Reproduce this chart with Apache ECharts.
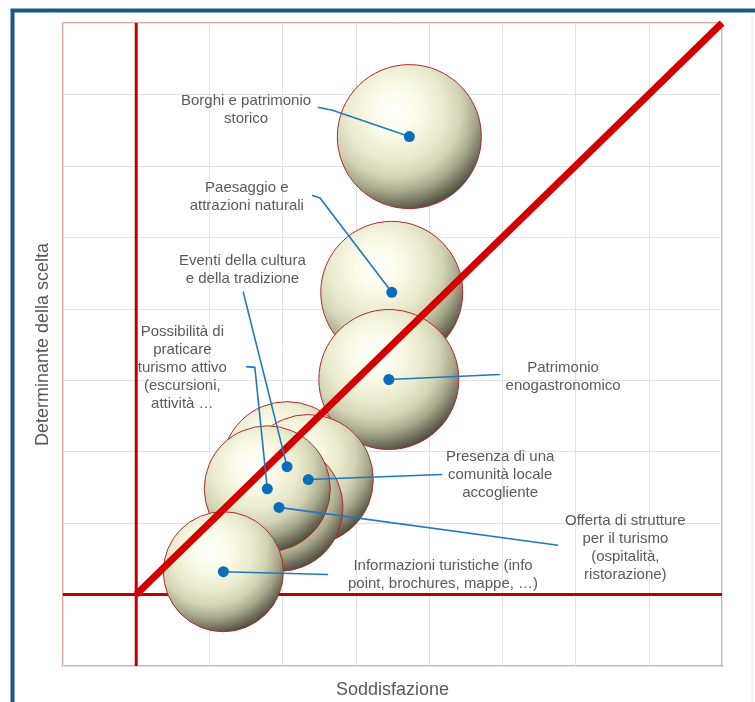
<!DOCTYPE html>
<html>
<head>
<meta charset="utf-8">
<script src="https://cdn.jsdelivr.net/npm/echarts@6/dist/echarts.min.js"></script>
<style>
  html, body { margin: 0; padding: 0; background: #ffffff; }
  #chart { width: 755px; height: 702px; }
</style>
</head>
<body>
<div id="chart"></div>
<script>
// Fattori di attrattività: soddisfazione (x), determinante della scelta (y), peso della bolla
const categories = [
  'Borghi e patrimonio storico',
  'Paesaggio e attrazioni naturali',
  'Patrimonio enogastronomico',
  'Eventi della cultura e della tradizione',
  'Presenza di una comunità locale accogliente',
  'Offerta di strutture per il turismo (ospitalità, ristorazione)',
  'Possibilità di praticare turismo attivo (escursioni, attività …',
  'Informazioni turistiche (info point, brochures, mappe, …)'
];
const soddisfazione = [3.73, 3.49, 3.45, 2.06, 2.35, 1.95, 1.79, 1.19];
const determinante  = [6.41, 4.23, 3.01, 1.79, 1.61, 1.22, 1.48, 0.32];
const peso          = [7.2, 7.1, 7.0, 6.5, 6.5, 6.4, 6.3, 6.0];

// Testo delle etichette (a capo come nel layout)
const labelText = [
  'Borghi e patrimonio\nstorico',
  'Paesaggio e\nattrazioni naturali',
  'Patrimonio\nenogastronomico',
  'Eventi della cultura\ne della tradizione',
  'Presenza di una\ncomunità locale\naccogliente',
  'Offerta di strutture\nper il turismo\n(ospitalità,\nristorazione)',
  'Possibilità di\npraticare\nturismo attivo\n(escursioni,\nattività …',
  'Informazioni turistiche (info\npoint, brochures, mappe, …)'
];

// Posizione delle etichette e percorso delle linee di richiamo (unità degli assi)
const labelLayout = [
  { at: [1.50, 6.78], path: [[2.48, 6.82], [2.68, 6.78]] },
  { at: [1.51, 5.56], path: [[2.40, 5.59], [2.51, 5.55]] },
  { at: [5.83, 3.05], path: [[4.97, 3.08]] },
  { at: [1.45, 4.55], path: [[1.46, 4.24]] },
  { at: [4.97, 1.67], path: [[4.18, 1.68]] },
  { at: [6.68, 0.66], path: [[5.76, 0.69]] },
  { at: [0.63, 3.18], path: [[1.50, 3.19], [1.62, 3.18]] },
  { at: [4.19, 0.27], path: [[2.62, 0.28]] }
];

const axisMin = -1, axisMax = 8;

const chart = echarts.init(document.getElementById('chart'), null, { renderer: 'canvas' });

const bubbleFill = new echarts.graphic.RadialGradient(0.4, 0.32, 0.74, [
  { offset: 0, color: '#ffffff' },
  { offset: 0.2, color: '#fcfcec' },
  { offset: 0.45, color: '#ebebcf' },
  { offset: 0.62, color: '#d3d3b5' },
  { offset: 0.76, color: '#a7a78b' },
  { offset: 0.88, color: '#6c6c59' },
  { offset: 1, color: '#33332b' }
]);

const axisCommon = {
  type: 'value',
  min: axisMin,
  max: axisMax,
  interval: 1,
  axisLine: { show: false },
  axisTick: { show: false },
  axisLabel: { show: false },
  splitLine: { show: true, lineStyle: { color: '#e2e2e2', width: 1 } },
  nameLocation: 'middle',
  nameTextStyle: { fontFamily: 'Liberation Sans, Arial, sans-serif', fontSize: 18, color: '#595959' }
};

chart.setOption({
  animation: false,
  backgroundColor: '#ffffff',
  grid: {
    left: 63, top: 23, width: 659, height: 643,
    containLabel: false,
    outerBoundsMode: 'none',
    show: true,
    borderColor: '#d98a8c',
    borderWidth: 1.5,
    backgroundColor: 'transparent'
  },
  xAxis: Object.assign({}, axisCommon, { name: 'Soddisfazione', nameGap: 15 }),
  yAxis: Object.assign({}, axisCommon, { name: 'Determinante della scelta', nameGap: 11 }),
  graphic: [
    {
      type: 'rect',
      shape: { x: 12.5, y: 10.5, width: 800, height: 800 },
      style: { fill: null, stroke: '#1f5486', lineWidth: 4 },
      z: 100
    },
    {
      type: 'line',
      shape: { x1: 752, y1: 14, x2: 752, y2: 702 },
      style: { stroke: '#e6e6e6', lineWidth: 1 },
      z: 100
    }
  ],
  series: [
    // assi di riferimento
    {
      type: 'line',
      data: [[0, axisMin], [0, axisMax]],
      symbol: 'none',
      lineStyle: { color: '#c00000', width: 3 },
      z: 1, silent: true
    },
    {
      type: 'line',
      data: [[axisMin, 0], [axisMax, 0]],
      symbol: 'none',
      lineStyle: { color: '#c00000', width: 3 },
      z: 1, silent: true
    },
    // bolle
    {
      type: 'scatter',
      data: categories.map((c, i) => ({ name: c, value: [soddisfazione[i], determinante[i], peso[i]] })),
      symbolSize: v => v[2] * 20,
      itemStyle: { color: bubbleFill, borderColor: '#b2292b', borderWidth: 1, opacity: 1 },
      z: 2, silent: true
    },
    // bisettrice
    {
      type: 'line',
      data: [[0, 0], [axisMax, axisMax]],
      symbol: 'none',
      clip: false,
      lineStyle: { color: '#d20000', width: 7, cap: 'butt' },
      z: 3, silent: true
    },
    // punti centrali, linee di richiamo ed etichette
    {
      type: 'custom',
      data: categories.map((c, i) => [soddisfazione[i], determinante[i]]),
      encode: { x: 0, y: 1 },
      clip: false,
      z: 4, silent: true,
      renderItem: (params, api) => {
        const i = params.dataIndex;
        const dot = api.coord([api.value(0), api.value(1)]);
        const lay = labelLayout[i];
        const pts = lay.path.map(p => api.coord(p)).concat([dot]);
        const txt = api.coord(lay.at);
        return {
          type: 'group',
          children: [
            {
              type: 'polyline',
              shape: { points: pts },
              style: { stroke: '#1f78c1', lineWidth: 1.6, fill: null }
            },
            {
              type: 'circle',
              shape: { cx: dot[0], cy: dot[1], r: 5.5 },
              style: { fill: '#0a6ebd' }
            },
            {
              type: 'text',
              x: txt[0], y: txt[1],
              style: {
                text: labelText[i],
                align: 'center',
                verticalAlign: 'middle',
                font: '15px "Liberation Sans", Arial, sans-serif',
                lineHeight: 18,
                fill: '#5a5a5a'
              }
            }
          ]
        };
      }
    }
  ]
});
</script>
</body>
</html>
